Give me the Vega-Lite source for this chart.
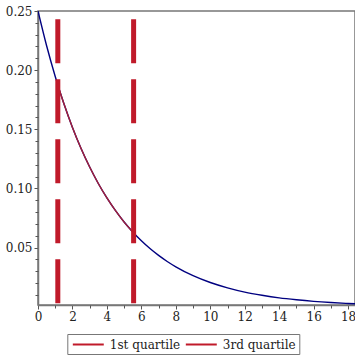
{
  "$schema": "https://vega.github.io/schema/vega-lite/v6.json",
  "autosize": "none",
  "width": 317,
  "height": 294,
  "padding": {"left": 38, "top": 11, "right": 0, "bottom": 50},
  "background": "white",
  "view": {"stroke": "#777777", "strokeWidth": 1.5},
  "config": {
    "axis": {
      "domainColor": "#777777", "domainWidth": 1.5, "tickColor": "#555555", "tickSize": 4, "tickWidth": 1,
      "labelFont": "DejaVu Serif", "labelFontSize": 12, "labelColor": "#222222", "grid": false, "title": null, "labelPadding": 2,
      "labelFlush": false
    }
  },
  "resolve": {"axis": {"x": "independent", "y": "independent"}},
  "datasets": {
    "curve": [
      {"x": 0, "y": 0.25}, {"x": 0.5, "y": 0.2206}, {"x": 1, "y": 0.1947}, {"x": 1.5, "y": 0.1718},
      {"x": 2, "y": 0.1516}, {"x": 2.5, "y": 0.1338}, {"x": 3, "y": 0.1181}, {"x": 3.5, "y": 0.1042},
      {"x": 4, "y": 0.092}, {"x": 4.5, "y": 0.0812}, {"x": 5, "y": 0.0716}, {"x": 5.5, "y": 0.0632},
      {"x": 6, "y": 0.0558}, {"x": 6.5, "y": 0.0492}, {"x": 7, "y": 0.0434}, {"x": 7.5, "y": 0.0383},
      {"x": 8, "y": 0.0338}, {"x": 9, "y": 0.0263}, {"x": 10, "y": 0.0205}, {"x": 11, "y": 0.016},
      {"x": 12, "y": 0.0124}, {"x": 13, "y": 0.0097}, {"x": 14, "y": 0.0075}, {"x": 15, "y": 0.0059},
      {"x": 16, "y": 0.0046}, {"x": 17, "y": 0.0036}, {"x": 18, "y": 0.0028}, {"x": 18.4, "y": 0.0025}
    ],
    "mid": [
      {"x": 1.15, "y": 0.1875}, {"x": 1.5, "y": 0.1718}, {"x": 2, "y": 0.1516}, {"x": 2.5, "y": 0.1338},
      {"x": 3, "y": 0.1181}, {"x": 3.5, "y": 0.1042}, {"x": 4, "y": 0.092}, {"x": 4.5, "y": 0.0812},
      {"x": 5, "y": 0.0716}, {"x": 5.55, "y": 0.0624}
    ],
    "quartiles": [
      {"x": 1.15, "top": 0.243, "bottom": 0.0025, "name": "1st quartile"},
      {"x": 5.55, "top": 0.243, "bottom": 0.0025, "name": "3rd quartile"}
    ]
  },
  "layer": [
    {
      "data": {"name": "curve"},
      "mark": {"type": "line", "color": "#000080", "strokeWidth": 1.4, "interpolate": "monotone", "clip": true},
      "encoding": {
        "x": {"field": "x", "type": "quantitative", "scale": {"domain": [0, 18.4], "nice": false, "zero": false},
          "axis": {"orient": "bottom", "values": [0,2,4,6,8,10,12,14,16,18], "format": "d", "labelOverlap": false}},
        "y": {"field": "y", "type": "quantitative", "scale": {"domain": [0.0015, 0.25], "nice": false, "zero": false},
          "axis": {"orient": "left", "values": [0.05,0.1,0.15,0.2,0.25], "format": ".2f", "labelOverlap": false}}
      }
    },
    {
      "data": {"name": "mid"},
      "mark": {"type": "line", "color": "#a3203a", "strokeWidth": 1.4, "interpolate": "monotone"},
      "encoding": {
        "x": {"field": "x", "type": "quantitative", "scale": {"domain": [0, 18.4], "nice": false, "zero": false},
          "axis": {"orient": "bottom", "values": [1,3,5,7,9,11,13,15,17], "labels": false, "domain": false, "tickSize": 3}},
        "y": {"field": "y", "type": "quantitative", "scale": {"domain": [0.0015, 0.25], "nice": false, "zero": false},
          "axis": {"orient": "left", "values": [0.01,0.02,0.03,0.04,0.06,0.07,0.08,0.09,0.11,0.12,0.13,0.14,0.16,0.17,0.18,0.19,0.21,0.22,0.23,0.24], "labels": false, "domain": false, "tickSize": 3}}
      }
    },
    {
      "data": {"name": "quartiles"},
      "mark": {"type": "rule", "strokeWidth": 5, "strokeDash": [44, 16]},
      "encoding": {
        "x": {"field": "x", "type": "quantitative", "scale": {"domain": [0, 18.4], "nice": false, "zero": false}, "axis": null},
        "y": {"field": "top", "type": "quantitative", "scale": {"domain": [0.0015, 0.25], "nice": false, "zero": false}, "axis": null},
        "y2": {"field": "bottom"},
        "color": {"field": "name", "type": "nominal",
          "scale": {"domain": ["1st quartile", "3rd quartile"], "range": ["#c01a2a", "#c01a2a"]},
          "legend": {"title": null, "orient": "none", "legendX": 29.3, "legendY": 323, "direction": "horizontal",
            "strokeColor": "#777777", "fillColor": "white", "padding": 3.5, "symbolType": "M-0.83,0H4.33", "symbolSize": 144,
            "symbolStrokeWidth": 2, "symbolDash": [1, 0], "symbolStrokeColor": "#d0404c", "labelFont": "DejaVu Serif", "labelFontSize": 12,
            "labelColor": "#222222", "columnPadding": 1, "labelOffset": 25}}
      }
    }
  ]
}
